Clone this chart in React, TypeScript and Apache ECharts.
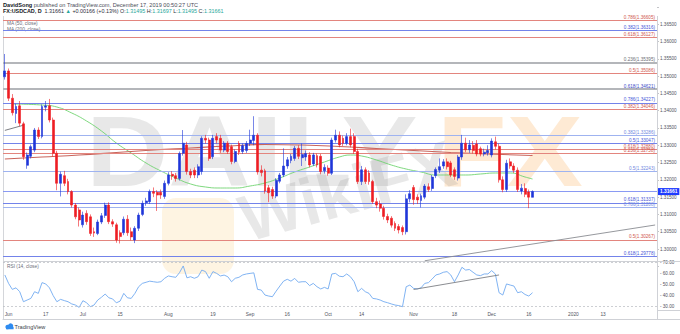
import React, { useEffect, useRef } from "react";
import * as echarts from "echarts";

// ---------------- DATA ----------------
const FIRST_DAY = "2019-05-31";
const SLOT_COUNT = 176; // trading-day slots shown on the time axis (incl. future space)

// Daily USDCAD candles: [open, close, low, high], one per weekday from 2019-05-31 to 2019-12-17
const ohlc: number[][] = [
  [1.3498, 1.3515, 1.349, 1.3564], [1.3515, 1.3436, 1.3428, 1.3522], [1.3436, 1.3394, 1.3386, 1.3448],
  [1.3392, 1.3412, 1.3364, 1.342], [1.3414, 1.3364, 1.3355, 1.3428], [1.3362, 1.3267, 1.3258, 1.3368],
  [1.3242, 1.3272, 1.3232, 1.3279], [1.3268, 1.3296, 1.3262, 1.3302], [1.3286, 1.3344, 1.328, 1.335],
  [1.3344, 1.3325, 1.3318, 1.3352], [1.3325, 1.3412, 1.332, 1.3418], [1.341, 1.3414, 1.3398, 1.3428],
  [1.3414, 1.3373, 1.3366, 1.3434], [1.3373, 1.3277, 1.3268, 1.338], [1.3277, 1.319, 1.317, 1.3284],
  [1.319, 1.3216, 1.3152, 1.3224], [1.3212, 1.319, 1.3182, 1.3226], [1.3195, 1.3166, 1.3158, 1.3203],
  [1.3166, 1.3127, 1.312, 1.317], [1.3127, 1.3093, 1.3086, 1.3133], [1.3113, 1.3084, 1.3065, 1.312],
  [1.307, 1.3098, 1.3062, 1.3108], [1.3103, 1.3079, 1.307, 1.3112], [1.3093, 1.3045, 1.3038, 1.31],
  [1.305, 1.3046, 1.3035, 1.3062], [1.3045, 1.3078, 1.304, 1.3085], [1.3078, 1.3096, 1.3072, 1.3104],
  [1.3097, 1.3127, 1.309, 1.3134], [1.3127, 1.3079, 1.3072, 1.3135], [1.3079, 1.3072, 1.3064, 1.3086],
  [1.307, 1.3026, 1.3018, 1.3076], [1.3047, 1.3036, 1.3016, 1.3054], [1.3047, 1.3086, 1.304, 1.3094],
  [1.3086, 1.3047, 1.3038, 1.3098], [1.305, 1.3035, 1.3025, 1.3062], [1.3026, 1.306, 1.3017, 1.3066],
  [1.306, 1.3098, 1.3052, 1.3105], [1.31, 1.3132, 1.3095, 1.314], [1.3134, 1.3139, 1.3125, 1.3148],
  [1.3137, 1.3166, 1.313, 1.3172], [1.3166, 1.3161, 1.315, 1.3178], [1.3164, 1.3156, 1.311, 1.317],
  [1.3164, 1.3156, 1.3145, 1.3172], [1.3152, 1.319, 1.3145, 1.3198], [1.319, 1.3214, 1.3184, 1.3222],
  [1.3216, 1.3211, 1.32, 1.3225], [1.3212, 1.3204, 1.3195, 1.322], [1.3204, 1.3276, 1.3198, 1.3282],
  [1.3277, 1.3306, 1.327, 1.3344], [1.3301, 1.3224, 1.3215, 1.331], [1.3224, 1.3214, 1.3205, 1.3232],
  [1.3228, 1.3214, 1.3205, 1.3236], [1.3214, 1.3238, 1.3205, 1.3245], [1.3224, 1.332, 1.3215, 1.3326],
  [1.332, 1.3315, 1.3305, 1.333], [1.3315, 1.3262, 1.3255, 1.3322], [1.3267, 1.332, 1.326, 1.333],
  [1.3325, 1.3315, 1.3305, 1.3335], [1.332, 1.3286, 1.3278, 1.333], [1.3286, 1.3306, 1.328, 1.3312],
  [1.3306, 1.3282, 1.3275, 1.3312], [1.3296, 1.3253, 1.3245, 1.3302], [1.3253, 1.3282, 1.3248, 1.3288],
  [1.3305, 1.328, 1.3272, 1.3312], [1.3282, 1.3299, 1.3275, 1.3305], [1.3285, 1.3305, 1.3278, 1.3312],
  [1.3306, 1.3315, 1.3298, 1.3345], [1.3314, 1.3329, 1.33, 1.3384], [1.3329, 1.3223, 1.3215, 1.3335],
  [1.3228, 1.3221, 1.321, 1.3242], [1.3226, 1.3168, 1.316, 1.3232], [1.3177, 1.3163, 1.3135, 1.3185],
  [1.3172, 1.3153, 1.3145, 1.318], [1.3153, 1.3199, 1.3147, 1.3205], [1.3196, 1.3214, 1.319, 1.322],
  [1.3214, 1.324, 1.3208, 1.3291], [1.324, 1.3258, 1.3232, 1.3266], [1.3256, 1.3268, 1.3248, 1.3275],
  [1.3262, 1.3291, 1.3255, 1.3298], [1.3291, 1.3268, 1.326, 1.33], [1.3264, 1.3273, 1.324, 1.3305],
  [1.3266, 1.3276, 1.3255, 1.3285], [1.3272, 1.3243, 1.3236, 1.328], [1.3246, 1.3272, 1.324, 1.3278],
  [1.327, 1.3243, 1.3236, 1.3276], [1.3268, 1.3224, 1.3216, 1.3275], [1.3226, 1.3236, 1.3218, 1.3245],
  [1.3234, 1.3219, 1.3212, 1.3242], [1.3219, 1.3315, 1.3214, 1.3322], [1.3315, 1.3329, 1.3308, 1.3345],
  [1.3329, 1.3301, 1.3294, 1.334], [1.332, 1.3306, 1.3298, 1.3328], [1.3306, 1.3325, 1.33, 1.3335],
  [1.3325, 1.3301, 1.3294, 1.3348], [1.3325, 1.3282, 1.3275, 1.3335], [1.3282, 1.3195, 1.3188, 1.329],
  [1.3195, 1.3229, 1.3185, 1.324], [1.3229, 1.3195, 1.3188, 1.3236], [1.322, 1.3195, 1.3186, 1.3228],
  [1.3195, 1.3137, 1.313, 1.32], [1.3137, 1.3127, 1.3118, 1.3148], [1.313, 1.3118, 1.3108, 1.314],
  [1.3118, 1.3094, 1.3085, 1.3125], [1.3094, 1.3084, 1.3075, 1.3102], [1.3089, 1.3069, 1.3062, 1.3095],
  [1.3074, 1.306, 1.3052, 1.308], [1.3065, 1.3055, 1.3045, 1.3072], [1.3062, 1.305, 1.304, 1.3068],
  [1.305, 1.3145, 1.3042, 1.3158], [1.3145, 1.316, 1.3135, 1.317], [1.3178, 1.3143, 1.3128, 1.3185],
  [1.315, 1.3142, 1.313, 1.3158], [1.314, 1.3154, 1.312, 1.316], [1.315, 1.3182, 1.3144, 1.3188],
  [1.318, 1.3172, 1.3165, 1.319], [1.3175, 1.3208, 1.3168, 1.3214], [1.3212, 1.323, 1.3205, 1.3236],
  [1.3228, 1.3238, 1.322, 1.3262], [1.324, 1.3252, 1.3232, 1.326], [1.3252, 1.3238, 1.323, 1.3262],
  [1.3249, 1.3214, 1.3208, 1.3255], [1.3229, 1.321, 1.32, 1.3236], [1.3205, 1.3266, 1.3198, 1.3272],
  [1.3266, 1.3306, 1.3258, 1.333], [1.3306, 1.3287, 1.328, 1.3322], [1.3287, 1.3301, 1.3278, 1.3315],
  [1.33, 1.3285, 1.3276, 1.3312], [1.3304, 1.3275, 1.3268, 1.3315], [1.329, 1.3275, 1.3268, 1.3296],
  [1.3275, 1.328, 1.3268, 1.329], [1.3278, 1.3285, 1.327, 1.33], [1.3272, 1.3312, 1.3265, 1.332],
  [1.331, 1.3297, 1.3288, 1.3325], [1.3297, 1.32, 1.3192, 1.3305], [1.32, 1.3172, 1.3164, 1.321],
  [1.3172, 1.3248, 1.3165, 1.3258], [1.3252, 1.324, 1.3232, 1.3262], [1.324, 1.3228, 1.322, 1.3248],
  [1.3228, 1.3172, 1.3165, 1.3236], [1.3168, 1.3176, 1.3158, 1.3188], [1.3175, 1.3158, 1.315, 1.319],
  [1.3165, 1.315, 1.3118, 1.3172], [1.31495, 1.31661, 1.31495, 1.31697],
];

// Moving averages: slot index and value
const ma50Idx = [2, 10, 14, 18, 22, 26, 30, 34, 38, 42, 46, 50, 54, 58, 62, 66, 70, 74, 78, 82, 86, 90, 93, 96, 100, 104, 108, 112, 116, 120, 124, 128, 132, 136, 140, 142];
const ma50Val = [1.34193, 1.34164, 1.34106, 1.33933, 1.33701, 1.33412, 1.33065, 1.32776, 1.32487, 1.32256, 1.32053, 1.3188, 1.31793, 1.31764, 1.31764, 1.31822, 1.31909, 1.32053, 1.32227, 1.32371, 1.32516, 1.3266, 1.32718, 1.32689, 1.32574, 1.32429, 1.32313, 1.32227, 1.3214, 1.3214, 1.3214, 1.32169, 1.32198, 1.32198, 1.32082, 1.32024];
const ma200Idx = [0, 10, 20, 30, 40, 50, 60, 70, 80, 90, 100, 110, 120, 130, 142];
const ma200Val = [1.32603, 1.3266, 1.32718, 1.32791, 1.32863, 1.32921, 1.32979, 1.33022, 1.33007, 1.32964, 1.32906, 1.32848, 1.32791, 1.32747, 1.32704];

// RSI (14, close), one per candle
const rsi = [
  58.6, 51, 45.6, 47, 43.5, 34.5, 36, 37.5, 43.5, 42, 51.7, 50.5, 47, 40, 34.5, 36.6, 35.5, 34.5, 32.5, 31.5,
  29.4, 35.4, 33.6, 30, 31.5, 36, 38.5, 41.4, 38, 37, 33.5, 35, 42, 38, 37.5, 42, 48, 51, 52, 53,
  52.5, 52, 52.5, 55.6, 57.7, 57, 56.5, 60.7, 66.7, 56, 57, 55.6, 57, 63, 61.6, 55.6, 61.6, 60, 57.7, 58.5,
  57, 52.5, 55.6, 56.5, 58.6, 59.5, 60, 60.5, 45.6, 45, 40.5, 39.6, 39, 44, 48.6, 53, 54.7, 53, 55.5, 52,
  52.5, 52.5, 49, 51, 48, 46, 47.4, 46, 59.5, 60, 57.5, 57, 59.5, 57, 52.5, 43.5, 46.5, 43.5, 42, 37.5,
  37, 36, 34.5, 33.6, 32.5, 31.5, 31, 30, 48, 49.5, 46.5, 46, 47, 51, 51.7, 55, 58.6, 59.5, 61, 61.6,
  58.6, 52.5, 58.6, 65.5, 63, 63.5, 61, 58.6, 58, 59.5, 59.5, 62.5, 59.5, 42.6, 40.5, 50.5, 49.5, 48.6, 42.6, 43.5,
  41, 39.6, 42.6,
];

// Fibonacci retracement levels drawn on the chart
const fibRatios = ["0.786", "0.382", "0.618", "0.236", "0.5", "0.618", "0.786", "0.382", "0.382", "0.5", "0.618", "0.236", "0.5", "0.618", "0.786", "0.5", "0.618"];
const fibPrices = [1.36605, 1.36316, 1.36127, 1.35395, 1.35086, 1.34621, 1.34227, 1.34046, 1.33286, 1.33047, 1.3288, 1.32758, 1.32243, 1.31337, 1.31208, 1.30267, 1.29778];

// Hand-drawn trend lines: [slotIndex, value] pairs
const priceTrendA = [[0, 1.3343], [4.5, 1.3358]];
const priceTrendB = [[113, 1.2966], [175, 1.30694]];
const rsiTrend = [[110, 45.5], [133, 58.6]];

const lastPrice = 1.31661;

// Axis ticks
const rsiTicks = [30, 40, 50, 60, 70];
const tickDates = ["2019-06-03", "2019-06-17", "2019-07-01", "2019-07-15", "2019-08-01", "2019-08-19", "2019-09-02", "2019-09-16", "2019-10-01", "2019-10-14", "2019-11-01", "2019-11-18", "2019-12-02", "2019-12-16", "2020-01-01", "2020-01-13"];
const tickLabels = ["Jun", "17", "Jul", "15", "Aug", "19", "Sep", "16", "Oct", "14", "Nov", "18", "Dec", "16", "2020", "13"];

// ---------------- STYLE ----------------
const UP = "#1f35d9";
const DOWN = "#ee1d23";
const RED = "#e3857e";
const BLUE = "#7383ea";
const LBLUE = "#9fb3f0";
const GREY = "#b4b6ba";
const fibColors = [RED, BLUE, RED, GREY, RED, GREY, BLUE, RED, LBLUE, BLUE, RED, RED, LBLUE, BLUE, LBLUE, RED, BLUE];
const fibLabelColors = ["#d0564e", "#4556d8", "#d0564e", "#6b6e75", "#d0564e", "#3c4bc8", "#4556d8", "#d0564e", "#6f87e0", "#4556d8", "#d0564e", "#d0564e", "#6f87e0", "#4556d8", "#6f87e0", "#d0564e", "#4556d8"];
const fibWidths = [1, 1, 1, 2, 1, 2, 1, 1, 1, 1, 1, 1, 1, 1, 1, 1, 1];
const FONT = "'Liberation Sans', Arial, sans-serif";

function buildDates(start: string, n: number): string[] {
  const out: string[] = [];
  const d = new Date(start + "T00:00:00Z");
  while (out.length < n) {
    const wd = d.getUTCDay();
    if (wd !== 0 && wd !== 6) out.push(d.toISOString().slice(0, 10));
    d.setUTCDate(d.getUTCDate() + 1);
  }
  return out;
}

export default function App() {
  const ref = useRef<HTMLDivElement>(null);

  useEffect(() => {
    if (!ref.current) return;
    const chart = echarts.init(ref.current, undefined, { renderer: "svg" });
    const dates = buildDates(FIRST_DAY, SLOT_COUNT);
    const tickMap: Record<string, string> = {};
    tickDates.forEach((d, i) => (tickMap[d] = tickLabels[i]));

    const fibLines = fibPrices.map((p, i) => ({
      yAxis: p,
      lineStyle: { color: fibColors[i], width: fibWidths[i], type: "solid" },
      label: {
        show: true,
        position: "insideEndTop",
        distance: [2, 0.5],
        formatter: `${fibRatios[i]}(${p.toFixed(5)})`,
        color: fibLabelColors[i],
        fontSize: 4.6,
        fontFamily: FONT,
      },
    }));

    const trend = (pts: number[][], color: string) => [
      { coord: pts[0], lineStyle: { color, width: 0.9, type: "solid" }, label: { show: false } },
      { coord: pts[1] },
    ];

    const option: any = {
      animation: false,
      backgroundColor: "#ffffff",
      grid: [
        { left: 3, right: 23, top: 6.94, height: 259.35 },
        { left: 3, right: 23, top: 251.2, height: 66.6 },
        { left: 3, right: 23, top: 310, height: 9 },
      ],
      xAxis: [
        { type: "category", gridIndex: 0, data: dates, boundaryGap: true, show: false },
        { type: "category", gridIndex: 1, data: dates, boundaryGap: true, show: false },
        {
          type: "category",
          gridIndex: 2,
          data: dates,
          boundaryGap: true,
          position: "top",
          axisLine: { show: true, lineStyle: { color: "#cfd1d6", width: 1 } },
          axisTick: { show: false },
          splitLine: { show: false },
          axisLabel: {
            inside: true,
            margin: 2.2,
            interval: (_i: number, v: string) => v in tickMap,
            formatter: (v: string) => tickMap[v] || "",
            fontSize: 4.8,
            color: "#50535e",
            fontFamily: FONT,
          },
        },
      ],
      yAxis: [
        {
          type: "value",
          gridIndex: 0,
          position: "right",
          min: 1.295,
          max: 1.37,
          interval: 0.005,
          axisLine: { show: false },
          splitLine: { show: false },
          axisTick: { show: true, length: 2, lineStyle: { color: "#9a9ca3", width: 0.6 } },
          axisLabel: {
            margin: 3,
            fontSize: 4.6,
            color: "#50535e",
            fontFamily: FONT,
            formatter: (v: number) => (v < 1.2999 || v > 1.3651 ? "" : v.toFixed(5)),
          },
        },
        {
          type: "value",
          gridIndex: 1,
          position: "right",
          min: 20,
          max: 80,
          interval: 10,
          axisLine: { show: false },
          splitLine: { show: false },
          axisTick: { show: false },
          axisLabel: {
            margin: 3,
            fontSize: 4.6,
            color: "#50535e",
            fontFamily: FONT,
            formatter: (v: number) => (rsiTicks.indexOf(v) >= 0 ? "- " + v.toFixed(2) : ""),
          },
        },
        { type: "value", gridIndex: 2, show: false },
      ],
      series: [
        {
          name: "USDCAD",
          type: "candlestick",
          xAxisIndex: 0,
          yAxisIndex: 0,
          barWidth: 2.4,
          data: ohlc,
          itemStyle: { color: UP, color0: DOWN, borderColor: UP, borderColor0: DOWN, borderWidth: 0.6 },
          z: 5,
          markLine: {
            silent: true,
            symbol: "none",
            precision: 5,
            animation: false,
            data: [
              ...fibLines,
              {
                yAxis: lastPrice,
                lineStyle: { color: "#7d8ef2", width: 0.9, type: "solid" },
                label: {
                  show: true,
                  position: "end",
                  distance: 1,
                  formatter: lastPrice.toFixed(5),
                  backgroundColor: "#1f3cff",
                  color: "#ffffff",
                  fontWeight: "bold",
                  fontSize: 4.8,
                  padding: [1.2, 2, 0.8, 2],
                  fontFamily: FONT,
                },
              },
              trend(priceTrendA, "#6d6f75"),
              trend(priceTrendB, "#8a8c92"),
            ],
          },
        },
        {
          name: "MA50",
          type: "line",
          xAxisIndex: 0,
          yAxisIndex: 0,
          data: ma50Idx.map((x, i) => [x, ma50Val[i]]),
          smooth: true,
          showSymbol: false,
          lineStyle: { color: "#6fd46f", width: 0.9 },
          z: 4,
        },
        {
          name: "MA200",
          type: "line",
          xAxisIndex: 0,
          yAxisIndex: 0,
          data: ma200Idx.map((x, i) => [x, ma200Val[i]]),
          smooth: true,
          showSymbol: false,
          lineStyle: { color: "#c9655c", width: 1.1 },
          z: 4,
        },
        {
          name: "RSI",
          type: "line",
          xAxisIndex: 1,
          yAxisIndex: 1,
          data: rsi,
          showSymbol: false,
          lineStyle: { color: "#72aaf0", width: 0.9 },
          z: 4,
          markLine: {
            silent: true,
            symbol: "none",
            precision: 5,
            animation: false,
            data: [
              { yAxis: 70, lineStyle: { color: "#b8bac0", type: [2, 2], width: 0.7 }, label: { show: false } },
              { yAxis: 30, lineStyle: { color: "#b8bac0", type: [2, 2], width: 0.7 }, label: { show: false } },
              trend(rsiTrend, "#7d7f85"),
            ],
          },
        },
        { type: "line", xAxisIndex: 2, yAxisIndex: 2, data: [], showSymbol: false },
      ],
      graphic: [
        // watermarks
        {
          type: "text", x: 86, y: 101, scaleX: 1.14, silent: true, z: -10,
          style: { text: "DAILY", fontSize: 100, fontWeight: "bold", fontFamily: FONT, fill: "rgba(150,150,150,0.22)", verticalAlign: "top" },
        },
        {
          type: "text", x: 437, y: 101, scaleX: 1.14, silent: true, z: -10,
          style: { text: "FX", fontSize: 100, fontWeight: "bold", fontFamily: FONT, fill: "rgba(250,175,90,0.26)", verticalAlign: "top" },
        },
        {
          type: "rect", x: 162, y: 198, silent: true, z: -10,
          shape: { x: 0, y: 0, width: 72, height: 76, r: 14 },
          style: { fill: "rgba(245,180,60,0.15)" },
        },
        {
          type: "text", x: 250, y: 252, rotation: 0.27, silent: true, z: -10,
          style: { text: "WikiFX", fontSize: 66, fontWeight: "bold", fontFamily: FONT, fill: "rgba(140,140,140,0.2)", verticalAlign: "bottom" },
        },
        // pane frame
        { type: "line", silent: true, z: 1, shape: { x1: 3.5, y1: 16, x2: 3.5, y2: 319 }, style: { stroke: "#d4d6da", lineWidth: 1 } },
        { type: "line", silent: true, z: 1, shape: { x1: 657.5, y1: 16, x2: 657.5, y2: 319 }, style: { stroke: "#cfd1d6", lineWidth: 1 } },
        { type: "line", silent: true, z: 1, shape: { x1: 3, y1: 261.5, x2: 680, y2: 261.5 }, style: { stroke: "#cfd1d6", lineWidth: 1 } },
        { type: "line", silent: true, z: 1, shape: { x1: 657, y1: 310.5, x2: 680, y2: 310.5 }, style: { stroke: "#cfd1d6", lineWidth: 1 } },
        { type: "line", silent: true, z: 1, shape: { x1: 3, y1: 319.5, x2: 680, y2: 319.5 }, style: { stroke: "#cfd1d6", lineWidth: 1 } },
        // header
        {
          type: "text", left: 3, top: 1.5, silent: true,
          style: {
            text: "{b|DavidSong} published on TradingView.com, December 17, 2019 00:50:27 UTC",
            fontSize: 5.6, fontFamily: FONT, fill: "#4a4d57",
            rich: { b: { fontSize: 5.6, fontFamily: FONT, fontWeight: "bold", fill: "#131722" } },
          },
        },
        {
          type: "text", left: 3, top: 8.8, silent: true,
          style: {
            text: "{b|FX:USDCAD, D}  1.31661 {g|▲} +0.00166 (+0.13%) O:{g|1.31495} H:{g|1.31697} L:{g|1.31495} C:{g|1.31661}",
            fontSize: 5.4, fontFamily: FONT, fill: "#2a2e39",
            rich: {
              b: { fontSize: 5.4, fontFamily: FONT, fontWeight: "bold", fill: "#131722" },
              g: { fontSize: 5.4, fontFamily: FONT, fill: "#26a69a" },
            },
          },
        },
        { type: "text", left: 7, top: 20.5, silent: true, style: { text: "MA (50, close)", fontSize: 4.8, fontFamily: FONT, fill: "#6a6d78" } },
        { type: "text", left: 7, top: 27, silent: true, style: { text: "MA (200, close)", fontSize: 4.8, fontFamily: FONT, fill: "#6a6d78" } },
        { type: "text", left: 7, top: 264, silent: true, style: { text: "RSI (14, close)", fontSize: 4.8, fontFamily: FONT, fill: "#6a6d78" } },
        // TradingView logo
        { type: "circle", silent: true, shape: { cx: 7.6, cy: 327, r: 2.2 }, style: { fill: "#2e8bf0" } },
        { type: "circle", silent: true, shape: { cx: 10.6, cy: 326, r: 2.7 }, style: { fill: "#2e8bf0" } },
        { type: "rect", silent: true, shape: { x: 6, y: 327, width: 7.6, height: 2.2 }, style: { fill: "#2e8bf0" } },
        { type: "text", left: 14.5, top: 323.6, silent: true, style: { text: "TradingView", fontSize: 5.6, fontFamily: FONT, fill: "#3a3d46" } },
      ],
    };

    chart.setOption(option);
    return () => chart.dispose();
  }, []);

  return <div ref={ref} style={{ position: "fixed", left: 0, top: 0, width: 680, height: 334 }} />;
}
